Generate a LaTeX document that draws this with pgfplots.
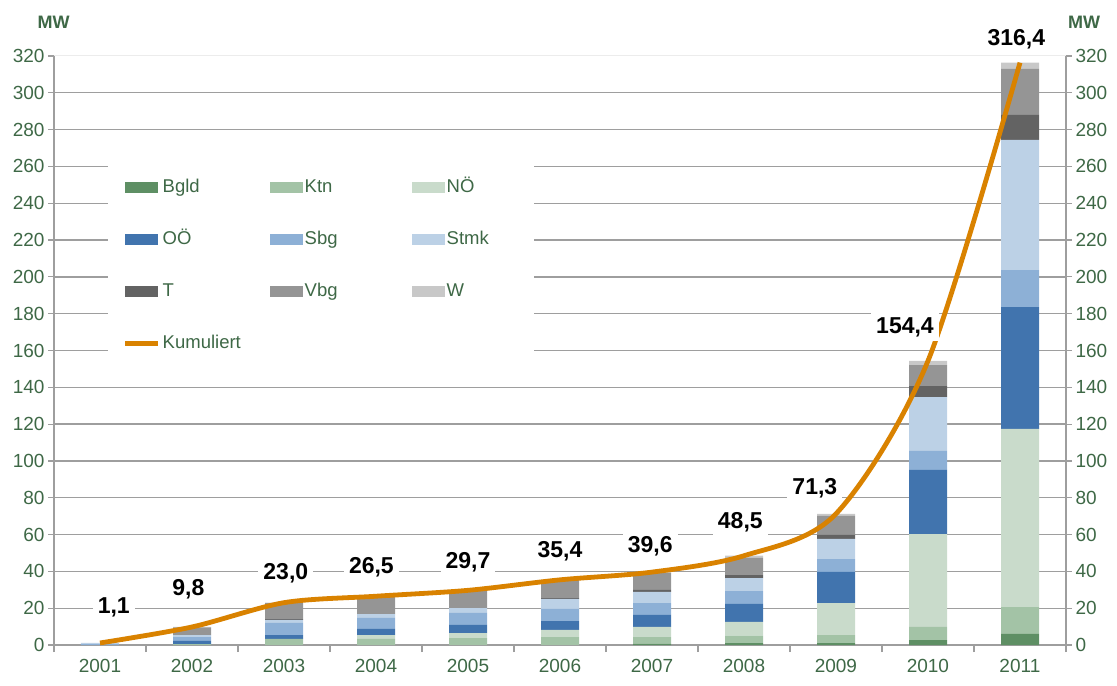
\documentclass[border=0pt]{standalone}
\usepackage{fontspec}
\setmainfont{Liberation Sans}
\usepackage{pgfplots}
\usepackage{pgfplotstable}
\pgfplotsset{compat=1.18}

\definecolor{cBgld}{HTML}{5E8F64}
\definecolor{cKtn}{HTML}{A3C3A6}
\definecolor{cNOE}{HTML}{C9DBCB}
\definecolor{cOOE}{HTML}{4174AE}
\definecolor{cSbg}{HTML}{8DB0D6}
\definecolor{cStmk}{HTML}{BCD1E6}
\definecolor{cT}{HTML}{636363}
\definecolor{cVbg}{HTML}{959595}
\definecolor{cW}{HTML}{C8C8C8}
\definecolor{cKum}{HTML}{D98200}
\definecolor{txtgreen}{HTML}{3E6846}
\definecolor{gridgray}{HTML}{9E9E9E}

\newcommand{\tickfont}{\fontsize{19bp}{21bp}\selectfont}
\newcommand{\legfont}{\fontsize{18.5bp}{21bp}\selectfont}
\newcommand{\labfont}{\fontsize{23bp}{26bp}\selectfont\bfseries}
\newcommand{\mwfont}{\fontsize{18bp}{20bp}\selectfont\bfseries}

% installed capacity per state (MW), stacked
\pgfplotstableread{
year Bgld Ktn NOE OOE Sbg Stmk T Vbg W
2001 0 0 0 0 0.5 0.6 0 0 0
2002 0 0.5 0 1.7 2.1 1.1 0 4.2 0.2
2003 0 3.3 0 2.1 6.6 1.6 0.5 8.7 0.2
2004 0 3.3 2.1 3.3 6.0 2.1 0 9.5 0.2
2005 0 3.8 2.7 4.4 6.5 2.7 0 9.4 0.2
2006 0 4.3 3.9 4.8 6.6 5.4 0.5 9.7 0.2
2007 0.7 3.6 5.5 6.5 6.5 6.0 1.1 9.2 0.5
2008 1.0 4.1 7.4 9.8 7.0 7.1 1.6 9.4 1.1
2009 1.0 4.4 17.4 16.9 7.0 10.9 2.2 10.4 1.1
2010 2.7 7.1 50.5 34.8 10.3 29.3 6.0 11.4 2.3
2011 6.0 14.6 96.8 66.2 20.1 70.7 13.6 25.0 3.4
}\bars

\pgfplotstableread{
year total
2001 1.1
2002 9.8
2003 23.0
2004 26.5
2005 29.7
2006 35.4
2007 39.6
2008 48.5
2009 71.3
2010 154.4
2011 316.4
}\kumuliert

% where the value labels sit
\pgfplotstableread{
x y lab
2001.15 20.6 1,1
2001.96 30.4 9,8
2003.02 39.1 23,0
2003.95 42.4 26,5
2005.00 45.1 29,7
2006.00 51.1 35,4
2006.98 53.8 39,6
2007.96 66.8 48,5
2008.77 85.3 71,3
2009.75 172.8 154,4
2010.96 329.2 316,4
}\labels

\begin{document}
\begin{tikzpicture}
\begin{axis}[
  name=bars,
  scale only axis, width=1012bp, height=589bp,
  xmin=2000.5, xmax=2011.5, ymin=0, ymax=320,
  axis x line*=bottom, axis y line*=left,
  axis line style={-, draw=gridgray, line width=1.2bp},
  ybar stacked, bar width=38bp,
  xtick={2001,...,2011},
  xticklabels={2001,2002,2003,2004,2005,2006,2007,2008,2009,2010,2011},
  xticklabel style={yshift=-5bp},
  minor xtick={2000.5,2001.5,...,2011.5},
  ytick={0,20,...,300},
  extra y ticks={320},
  extra y tick style={major grid style={gray!15, line width=1bp}},
  ymajorgrids, grid style={gridgray, line width=1.3bp},
  tick align=outside, major tick length=6bp, minor tick length=7bp,
  tick style={gridgray, line width=1.2bp},
  major x tick style={draw=none},
  ticklabel style={font=\tickfont, text=txtgreen},
  /pgf/number format/assume math mode=true,
  legend columns=3,
  legend image code/.code={\fill[#1] (0bp,-5.5bp) rectangle (33bp,5.5bp);},
  legend style={at={(0.0534,0.8166)}, anchor=north west, fill=white, draw=none,
    inner xsep=15bp, inner ysep=15bp, row sep=35bp,
    /tikz/every even column/.append style={column sep=35bp},
    nodes={font=\legfont, text=txtgreen, text width=70bp, inner xsep=2bp,
      inner ysep=0bp, text height=13bp, text depth=4bp, align=left}},
]
\addplot[fill=cBgld, draw=none] table[x=year, y=Bgld] {\bars};
\addlegendentry{Bgld}
\addplot[fill=cKtn, draw=none] table[x=year, y=Ktn] {\bars};
\addlegendentry{Ktn}
\addplot[fill=cNOE, draw=none] table[x=year, y=NOE] {\bars};
\addlegendentry{NÖ}
\addplot[fill=cOOE, draw=none] table[x=year, y=OOE] {\bars};
\addlegendentry{OÖ}
\addplot[fill=cSbg, draw=none] table[x=year, y=Sbg] {\bars};
\addlegendentry{Sbg}
\addplot[fill=cStmk, draw=none] table[x=year, y=Stmk] {\bars};
\addlegendentry{Stmk}
\addplot[fill=cT, draw=none] table[x=year, y=T] {\bars};
\addlegendentry{T}
\addplot[fill=cVbg, draw=none] table[x=year, y=Vbg] {\bars};
\addlegendentry{Vbg}
\addplot[fill=cW, draw=none] table[x=year, y=W] {\bars};
\addlegendentry{W}
\addlegendimage{legend image code/.code={\draw[cKum, line width=4.5bp] (0bp,0bp) -- (33bp,0bp);}}
\addlegendentry{Kumuliert}
\end{axis}

\begin{axis}[
  scale only axis, width=1012bp, height=589bp,
  xmin=2000.5, xmax=2011.5, ymin=0, ymax=320,
  axis x line=none, axis y line*=right,
  axis line style={-, draw=gridgray, line width=1.2bp},
  ytick={0,20,...,320},
  tick align=outside, major tick length=6bp,
  tick style={gridgray, line width=1.2bp},
  ticklabel style={font=\tickfont, text=txtgreen},
  /pgf/number format/assume math mode=true,
  clip=false,
]
\addplot[cKum, line width=4.8bp, smooth, mark=none] table[x=year, y=total] {\kumuliert};
\addplot[draw=none, mark=none, nodes near coords, point meta=explicit symbolic,
  every node near coord/.append style={font=\labfont, text=black, fill=white,
    inner xsep=5bp, inner ysep=4bp, anchor=center}]
  table[x=x, y=y, meta=lab] {\labels};
\end{axis}

\node[font=\mwfont, text=txtgreen] at ([xshift=-0.5bp, yshift=34bp]bars.north west) {MW};
\node[font=\mwfont, text=txtgreen] at ([xshift=18bp, yshift=34bp]bars.north east) {MW};

\pgfresetboundingbox
\useasboundingbox ([xshift=-54bp, yshift=-41bp]bars.south west) rectangle ([xshift=51bp, yshift=56bp]bars.north east);
\end{tikzpicture}
\end{document}
